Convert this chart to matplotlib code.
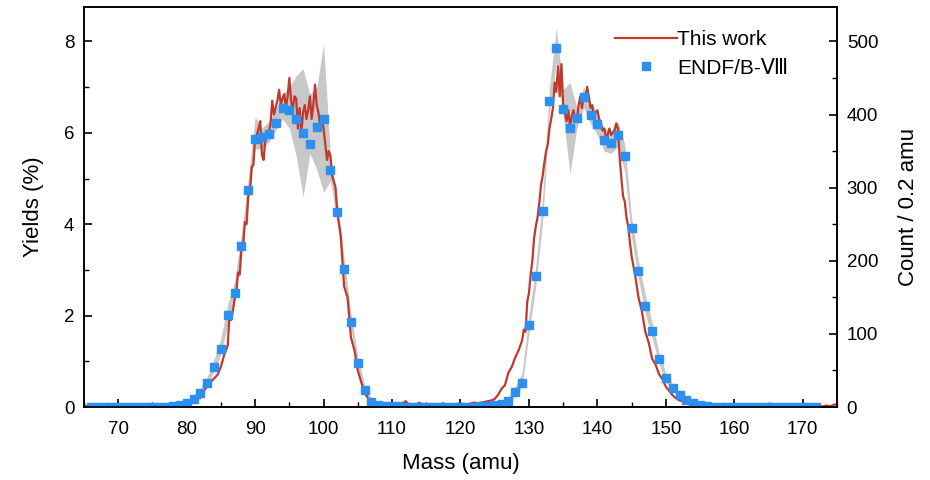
import numpy as np
import matplotlib
matplotlib.use("Agg")
import matplotlib.pyplot as plt
from matplotlib.ticker import MultipleLocator

plt.rcParams['font.family'] = ['Liberation Sans', 'DejaVu Sans']

# counts per 0.2 amu that correspond to 1 % yield (500 counts <-> 8 %)
COUNTS_PER_PERCENT = 62.5

# "This work" - counts / 0.2 amu; read every 0.5 amu on the tails/valley,
# every 0.25 amu across the two peaks
work_mass = np.concatenate([
    np.arange(65, 85.51, 0.5),
    np.arange(86, 102.01, 0.25),
    np.arange(102.5, 128.51, 0.5),
    np.arange(129, 145.01, 0.25),
    np.arange(145.5, 175.01, 0.5),
])
counts_low_tail = [
    2, 1, 2, 3, 1, 2, 2, 1, 3, 2, 2, 1, 2, 3, 1, 2, 2, 1, 2, 2,
    1, 2, 3, 2, 2, 3, 3, 2, 4, 3, 5, 8, 9, 14, 12, 22, 28, 34, 39, 44,
    55, 72,
]
counts_light_peak = [
    84, 125, 119, 131, 147, 156, 184, 181, 216, 219, 253, 250, 288, 294, 328, 331,
    369, 372, 381, 391, 344, 338, 369, 372, 375, 388, 419, 400, 409, 419, 434, 413,
    422, 428, 409, 425, 450, 419, 406, 425, 422, 381, 409, 375, 403, 413, 394, 406,
    425, 394, 413, 441, 413, 403, 384, 397, 381, 359, 338, 350, 344, 316, 309, 300,
    266,
]
counts_valley = [
    235, 165, 150, 95, 78, 50, 34, 19, 12, 9, 6, 5, 4, 5, 3, 4, 3, 4, 5, 8,
    3, 4, 3, 6, 3, 4, 3, 4, 3, 4, 5, 3, 4, 3, 4, 5, 4, 3, 5, 6,
    5, 6, 7, 8, 9, 11, 17, 25, 30, 47, 55, 68, 78,
]
counts_heavy_peak = [
    91, 106, 103, 144, 156, 181, 200, 231, 247, 259, 278, 303, 316, 334, 350, 359,
    381, 394, 409, 444, 431, 466, 425, 469, 413, 403, 391, 406, 384, 397, 406, 394,
    391, 413, 425, 409, 428, 422, 438, 425, 409, 413, 397, 403, 406, 394, 388, 378,
    381, 369, 372, 381, 372, 375, 378, 388, 381, 341, 313, 288, 281, 259, 247, 225,
    206,
]
counts_high_tail = [
    181, 150, 131, 103, 88, 66, 58, 45, 38, 28, 22, 16, 12, 9, 8, 6, 5, 5, 4, 4,
    3, 3, 3, 2, 3, 2, 2, 3, 2, 2, 1, 2, 2, 1, 2, 2, 1, 2, 1, 2,
    1, 1, 2, 1, 2, 1, 1, 2, 1, 1, 1, 2, 1, 1, 1, 1, 2, 1, 3, 4,
]
work_counts = (counts_low_tail + counts_light_peak + counts_valley
               + counts_heavy_peak + counts_high_tail)

# ENDF/B-VIII yields (%) at integer masses
endf_mass = np.arange(66, 173)
endf_yield = [
    0, 0, 0, 0, 0, 0, 0, 0, 0, 0,
    0.003, 0.01, 0.02, 0.05, 0.09, 0.17, 0.31, 0.53, 0.88, 1.26,
    2.01, 2.49, 3.53, 4.75, 5.86, 5.92, 5.98, 6.22, 6.55, 6.5,
    6.3, 6.0, 5.75, 6.13, 6.3, 5.19, 4.27, 3.01, 1.86, 0.96,
    0.37, 0.12, 0.05, 0.03, 0.02, 0.02, 0.01, 0.01, 0.01, 0.01,
    0.01, 0.01, 0.01, 0.01, 0.01, 0.01, 0.01, 0.02, 0.03, 0.04,
    0.06, 0.14, 0.33, 0.53, 1.79, 2.87, 4.3, 6.7, 7.85, 6.53,
    6.1, 6.32, 6.79, 6.4, 6.2, 5.84, 5.78, 5.95, 5.49, 3.92,
    2.98, 2.22, 1.66, 1.06, 0.63, 0.42, 0.27, 0.16, 0.08, 0.04,
    0.02, 0.01, 0, 0, 0, 0, 0, 0, 0, 0,
    0, 0, 0, 0, 0, 0, 0,
]

# grey uncertainty band (%), integer masses 76..158
band_mass = np.arange(76, 159)
band_low = [
    0, 0, 0.01, 0.03, 0.06, 0.13, 0.26, 0.46, 0.78, 1.15,
    1.8, 2.3, 3.35, 4.55, 5.65, 5.65, 5.8, 6.05, 6.3, 6.1,
    5.5, 4.6, 5.55, 5.2, 4.7, 4.95, 4.05, 2.8, 1.7, 0.85,
    0.3, 0.08, 0.03, 0.01, 0, 0, 0, 0, 0, 0,
    0, 0, 0, 0, 0, 0, 0, 0, 0.01, 0.02,
    0.04, 0.1, 0.27, 0.45, 1.6, 2.65, 4.05, 6.45, 7.55, 6.35,
    5.1, 6.1, 6.55, 6.2, 5.95, 5.6, 5.55, 5.7, 5.15, 3.7,
    2.8, 2.05, 1.5, 0.95, 0.55, 0.35, 0.21, 0.11, 0.05, 0.02,
    0.01, 0, 0,
]
band_high = [
    0.02, 0.03, 0.05, 0.09, 0.15, 0.26, 0.42, 0.66, 1.05, 1.5,
    2.25, 2.75, 3.8, 5.0, 6.35, 6.1, 6.25, 6.5, 6.85, 7.0,
    7.25, 7.4, 6.85, 7.0, 7.95, 5.5, 4.5, 3.25, 2.05, 1.1,
    0.48, 0.19, 0.09, 0.05, 0.04, 0.03, 0.03, 0.03, 0.03, 0.03,
    0.03, 0.03, 0.03, 0.03, 0.03, 0.03, 0.03, 0.04, 0.05, 0.07,
    0.1, 0.22, 0.45, 0.75, 2.0, 3.1, 4.6, 7.0, 8.3, 6.95,
    7.1, 6.55, 7.0, 6.65, 6.45, 6.1, 6.05, 6.25, 5.75, 4.15,
    3.2, 2.45, 1.85, 1.2, 0.74, 0.5, 0.33, 0.21, 0.11, 0.06,
    0.04, 0.02, 0.01,
]

fig, ax = plt.subplots(figsize=(9.3, 4.8), dpi=100)
fig.subplots_adjust(left=0.0903, right=0.9, top=0.985, bottom=0.152)

ax.fill_between(band_mass, band_low, band_high, color="#c8c8c8", lw=0, zorder=1)
ax.plot(work_mass, np.array(work_counts) / COUNTS_PER_PERCENT, color="#c0392b",
        lw=1.6, label="This work", zorder=2)
ax.plot(endf_mass, endf_yield, ls="none", marker="s", ms=5.6, color="#2d8ff0",
        label="ENDF/B-\u2167", zorder=3)

ax.set_xlim(65, 175)
ax.set_ylim(0, 8.75)
ax.xaxis.set_major_locator(MultipleLocator(10))
ax.xaxis.set_minor_locator(MultipleLocator(5))
ax.yaxis.set_major_locator(MultipleLocator(2))
ax.yaxis.set_minor_locator(MultipleLocator(1))
ax.set_xlabel("Mass (amu)", fontsize=16, labelpad=11)
ax.set_ylabel("Yields (%)", fontsize=16, labelpad=14)

ax2 = ax.twinx()
ax2.set_ylim(0, 8.75 * COUNTS_PER_PERCENT)
ax2.yaxis.set_major_locator(MultipleLocator(100))
ax2.yaxis.set_minor_locator(MultipleLocator(50))
ax2.set_ylabel("Count / 0.2 amu", fontsize=16, labelpad=14)

for a in (ax, ax2):
    a.tick_params(which="major", direction="in", length=6, width=1.2,
                  labelsize=13.5, pad=7)
    a.tick_params(which="minor", direction="in", length=3.5, width=1.0)
    for s in a.spines.values():
        s.set_linewidth(1.2)
ax.tick_params(axis="x", which="major", pad=10)
ax.tick_params(axis="y", which="both", right=False)

leg = ax.legend(loc="upper left", bbox_to_anchor=(0.705, 0.942), frameon=False,
                fontsize=15, handlelength=3.0, handletextpad=0.0, labelspacing=0.45,
                borderpad=0, borderaxespad=0, numpoints=1)

fig.savefig("out.png", dpi=100)
